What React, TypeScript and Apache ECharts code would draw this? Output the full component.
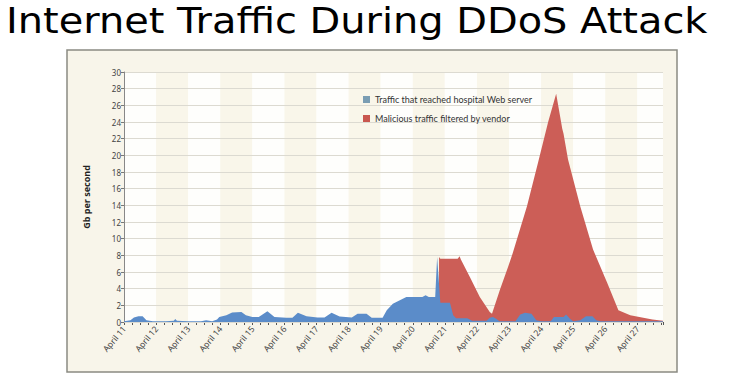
import React, { useEffect, useRef } from "react";
import * as echarts from "echarts";

const TITLE = "Internet Traffic During DDoS Attack";
const Y_NAME = "Gb per second";
const BLUE_NAME = "Traffic that reached hospital Web server";
const RED_NAME = "Malicious traffic filtered by vendor";

// x values are days of April (fractional days = time of day)
const blueDays = [
  11.0, 11.2, 11.31, 11.45, 11.58, 11.7, 11.9, 12.3, 12.55, 12.6, 12.65, 13.0, 13.4, 13.56, 13.75, 13.9,
  13.97, 14.19, 14.37, 14.66, 14.8, 15.0, 15.2, 15.47, 15.69, 16.06, 16.25, 16.42, 16.69, 17.03, 17.25,
  17.47, 17.72, 18.1, 18.28, 18.56, 18.72, 19.06, 19.19, 19.38, 19.8, 20.3, 20.4, 20.5, 20.7, 20.76,
  20.86, 21.16, 21.26, 21.35, 21.7, 21.85, 22.3, 22.4, 22.5, 22.6, 22.7, 23.2, 23.35, 23.5, 23.7, 23.85,
  24.0, 24.3, 24.4, 24.7, 24.78, 24.9, 25.0, 25.22, 25.4, 25.6, 25.72, 25.85, 27.8,
];
const blueValues = [
  0.1, 0.2, 0.55, 0.7, 0.7, 0.2, 0.1, 0.1, 0.15, 0.35, 0.15, 0.1, 0.1, 0.2, 0.1, 0.3,
  0.6, 0.8, 1.15, 1.2, 0.8, 0.6, 0.6, 1.3, 0.6, 0.5, 0.5, 1.1, 0.7, 0.55, 0.55,
  1.1, 0.65, 0.55, 1.0, 1.0, 0.5, 0.5, 1.4, 2.2, 3.0, 3.0, 3.2, 3.0, 3.0, 7.8,
  2.3, 2.3, 0.8, 0.45, 0.45, 0.15, 0.15, 0.5, 0.6, 0.4, 0.1, 0.1, 0.9, 1.1, 1.0, 0.2,
  0.1, 0.1, 0.6, 0.6, 0.9, 0.4, 0.1, 0.2, 0.7, 0.7, 0.2, 0.1, 0.1,
];

const redDays = [
  20.81, 20.82, 20.86, 21.4, 21.46, 21.5, 21.78, 22.09, 22.4, 22.47, 22.72, 22.97, 23.12, 23.56, 23.91,
  24.22, 24.47, 24.66, 24.7, 24.84, 25.22, 25.62, 26.06, 26.41, 26.78, 27.47, 27.8,
];
const redValues = [
  0, 7.8, 7.6, 7.6, 7.9, 7.5, 5.4, 3.0, 1.2, 1.0, 3.9, 6.6, 8.3, 13.9, 19.2,
  24.0, 27.4, 23.2, 22.6, 19.5, 13.9, 8.7, 4.7, 1.4, 0.8, 0.3, 0.15,
];

const X_MIN = 11;
const X_MAX = 27.8;
const Y_MAX = 30;
const Y_STEP = 2;

export default function App() {
  const ref = useRef<HTMLDivElement>(null);

  useEffect(() => {
    if (!ref.current) return;
    const chart = echarts.init(ref.current, undefined, { renderer: "svg" });
    const blueData = blueDays.map((d, i) => [d, blueValues[i]]);
    const redData = redDays.map((d, i) => [d, redValues[i]]);

    chart.setOption({
      animation: false,
      graphic: [
        {
          type: "rect",
          z: -10,
          silent: true,
          shape: { x: 67, y: 50, width: 610, height: 322 },
          style: { fill: "#f8f5ea", stroke: "#8a8a82", lineWidth: 1.5 },
        },
        {
          type: "text",
          x: 6,
          y: 21,
          scaleX: 1.14,
          silent: true,
          style: {
            text: TITLE,
            font: '35px "DejaVu Sans"',
            fill: "#000",
            verticalAlign: "middle",
            align: "left",
          },
        },
      ],
      legend: {
        orient: "vertical",
        left: 358,
        top: 90,
        itemWidth: 7,
        itemHeight: 7,
        itemGap: 10,
        selectedMode: false,
        icon: "rect",
        textStyle: { fontFamily: "Lato", fontSize: 9, color: "#333", lineHeight: 9 },
        data: [
          { name: BLUE_NAME, itemStyle: { color: "#7a9db3" } },
          { name: RED_NAME, itemStyle: { color: "#c9574f" } },
        ],
      },
      grid: {
        left: 124,
        right: 70,
        top: 72,
        bottom: 57,
        show: true,
        backgroundColor: "#fefefc",
        borderWidth: 0,
      },
      xAxis: {
        type: "value",
        min: X_MIN,
        max: X_MAX,
        interval: 1,
        z: 0,
        axisLine: { show: true, lineStyle: { color: "#555", width: 1 } },
        axisTick: { show: true, length: 3, lineStyle: { color: "#555" } },
        minorTick: { show: true, splitNumber: 4, length: 3, lineStyle: { color: "#555" } },
        splitLine: { show: false },
        splitArea: { show: true, areaStyle: { color: ["#fefefc", "#f9f6ea"] } },
        axisLabel: {
          rotate: 50,
          margin: 5,
          fontFamily: "Noto Sans",
          fontSize: 8.5,
          color: "#444",
          formatter: (v: number) => (Math.abs(v - Math.round(v)) < 1e-6 ? "April " + Math.round(v) : ""),
        },
      },
      yAxis: {
        type: "value",
        min: 0,
        max: Y_MAX,
        interval: Y_STEP,
        z: 1,
        name: Y_NAME,
        nameLocation: "middle",
        nameGap: 33,
        nameTextStyle: { fontFamily: "Noto Sans", fontWeight: "bold", fontSize: 9, color: "#222" },
        axisLine: { show: true, lineStyle: { color: "#888", width: 1 } },
        axisTick: { show: true, length: 3, lineStyle: { color: "#777" } },
        axisLabel: { fontFamily: "Noto Sans", fontSize: 8, color: "#444", margin: 3 },
        splitLine: { show: true, lineStyle: { color: "#dcdad1", width: 1 } },
      },
      series: [
        {
          name: RED_NAME,
          type: "line",
          data: redData,
          showSymbol: false,
          symbol: "none",
          z: 2,
          color: "#c9574f",
          lineStyle: { width: 0 },
          areaStyle: { color: "#cc5e57", opacity: 1 },
        },
        {
          name: BLUE_NAME,
          type: "line",
          data: blueData,
          showSymbol: false,
          symbol: "none",
          z: 3,
          color: "#7a9db3",
          lineStyle: { width: 0 },
          areaStyle: { color: "#5b8cc9", opacity: 1 },
        },
      ],
    });
    return () => chart.dispose();
  }, []);

  return <div ref={ref} style={{ position: "absolute", left: 0, top: 0, width: 733, height: 379 }} />;
}
